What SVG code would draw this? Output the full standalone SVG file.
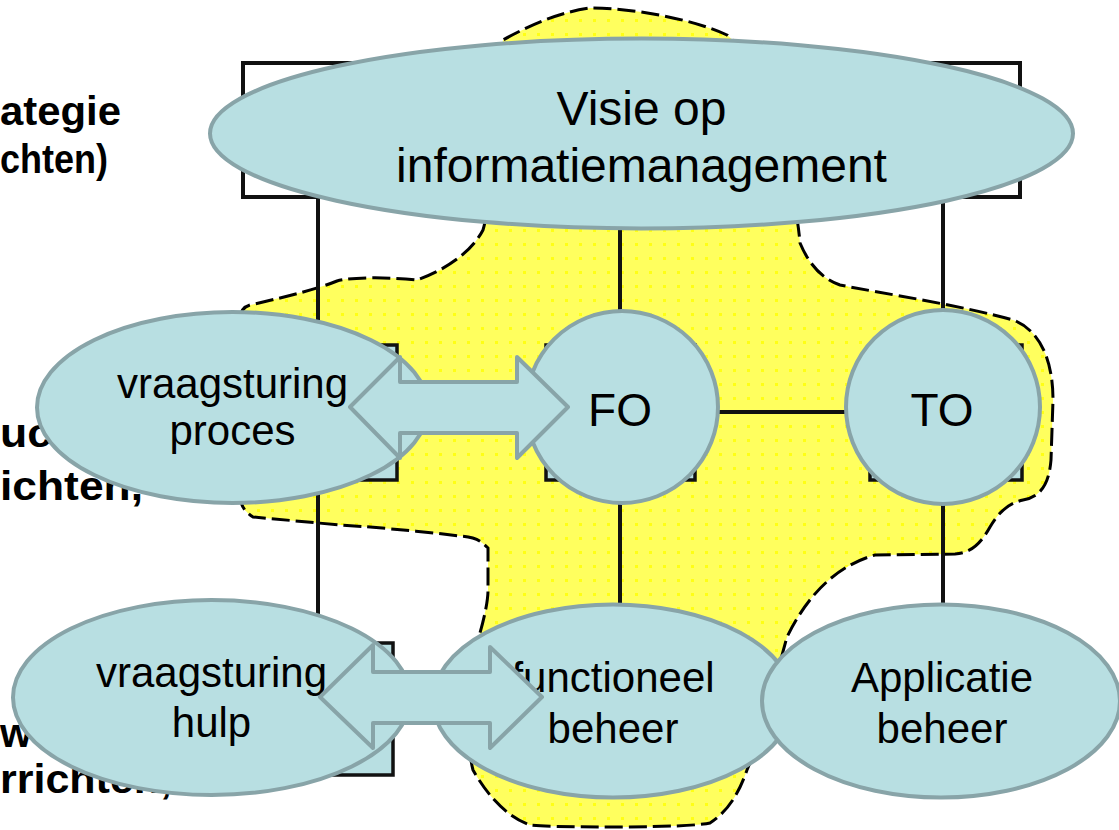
<svg xmlns="http://www.w3.org/2000/svg" width="1119" height="830" viewBox="0 0 1119 830">
<style>
.node{fill:#b8dfe2;stroke:#88a4a8;stroke-width:4}
.lbl{font-family:"Liberation Sans",Arial,sans-serif;fill:#000;text-anchor:middle}
.bg{font-family:"Liberation Sans",Arial,sans-serif;font-weight:bold;font-size:41px;fill:#000}
.grid{fill:none;stroke:#111;stroke-width:4}
.box{fill:#b8dfe2;stroke:#111;stroke-width:3.5}
.arrow{fill:#b8dfe2;stroke:#88a4a8;stroke-width:4;stroke-linejoin:round}
</style>
<defs>
<pattern id="dots" width="14" height="14" patternUnits="userSpaceOnUse">
<rect width="14" height="14" fill="#ffff5e"/>
<rect x="5" y="5" width="3" height="3" fill="#ffff14"/>
</pattern>
</defs>
<rect width="1119" height="830" fill="#fff"/>
<g id="background">
<text class="bg" x="0" y="125" textLength="121" lengthAdjust="spacingAndGlyphs">ategie</text>
<text class="bg" x="0" y="173" textLength="108" lengthAdjust="spacingAndGlyphs">chten)</text>
<text class="bg" x="0" y="447" textLength="52" lengthAdjust="spacingAndGlyphs">uc</text>
<text class="bg" x="0" y="500" textLength="143" lengthAdjust="spacingAndGlyphs">ichten,</text>
<text class="bg" x="0" y="747">w</text>
<text class="bg" x="0" y="793" textLength="172" lengthAdjust="spacingAndGlyphs">rrichten,</text>
<rect class="grid" x="243" y="63" width="777" height="134" stroke-width="3"/>
<path d="M483,230 C492,200 495,120 503,40 C530,25 560,12 590,8 C630,8 690,18 727,35 C760,60 795,180 800,243 C808,262 820,278 840,285 C880,293 960,305 1013,320 C1040,330 1053,360 1053,400 L1051,460 C1049,485 1040,497 1023,500 C1010,503 1000,510 990,527 C980,545 970,553 955,554 L875,555 C840,565 810,590 787,637 C775,680 760,740 747,770 C740,790 730,810 710,823 C690,828 560,828 530,825 C510,818 490,800 473,770 C465,740 470,680 480,633 C485,615 488,600 488,590 L488,548 C480,540 475,537 460,536 C420,531 360,526 340,525 L253,517 C245,512 240,505 240,495 L240,320 C240,312 243,307 250,305 C290,296 320,288 337,281 C350,277 390,277 417,280 C440,272 470,255 483,230 Z" fill="url(#dots)" stroke="#000" stroke-width="3" stroke-dasharray="18 6"/>
<path class="grid" d="M318,197 V640 M620,197 V640 M943,197 V640 M620,412 H943"/>
<rect class="box" x="546" y="345" width="149" height="135"/>
<rect class="box" x="870" y="345" width="152" height="135"/>
<rect class="box" x="245" y="345" width="152" height="135"/>
<rect class="box" x="245" y="643" width="148" height="132"/>
</g>
<g id="n-visie">
<ellipse class="node" cx="641.5" cy="133.5" rx="431.5" ry="95"/>
<text class="lbl" font-size="48" x="641.5" y="125">Visie op</text>
<text class="lbl" font-size="48" x="641.5" y="182">informatiemanagement</text>
</g>
<g id="n-proces">
<ellipse class="node" cx="232.5" cy="407.5" rx="195.5" ry="95.5"/>
<text class="lbl" font-size="42" x="232.5" y="398">vraagsturing</text>
<text class="lbl" font-size="42" x="232.5" y="445">proces</text>
</g>
<g id="n-fo">
<circle class="node" cx="622" cy="407" r="96"/>
<text class="lbl" font-size="46" x="620" y="426">FO</text>
</g>
<g id="n-to">
<circle class="node" cx="943" cy="407" r="97"/>
<text class="lbl" font-size="46" x="942" y="426">TO</text>
</g>
<g id="n-hulp">
<ellipse class="node" cx="211.5" cy="697.5" rx="198.5" ry="97.5"/>
<text class="lbl" font-size="42" x="211.5" y="687">vraagsturing</text>
<text class="lbl" font-size="42" x="211.5" y="737">hulp</text>
</g>
<g id="n-functioneel">
<ellipse class="node" cx="613" cy="701" rx="180" ry="96.5"/>
<text class="lbl" font-size="42" x="613" y="692">functioneel</text>
<text class="lbl" font-size="42" x="613" y="743">beheer</text>
</g>
<g id="n-applicatie">
<ellipse class="node" cx="941" cy="701" rx="179" ry="96.5"/>
<text class="lbl" font-size="42" x="942" y="692">Applicatie</text>
<text class="lbl" font-size="42" x="942" y="743">beheer</text>
</g>
<g id="connectors">
<path class="arrow" d="M350,407 L400,357 L400,382 L517,382 L517,357 L568,407 L517,458 L517,433 L400,433 L400,458 Z"/>
<path class="arrow" d="M320,697 L373,645 L373,672 L490,672 L490,647 L542,697 L490,748 L490,723 L373,723 L373,748 Z"/>
</g>
</svg>
